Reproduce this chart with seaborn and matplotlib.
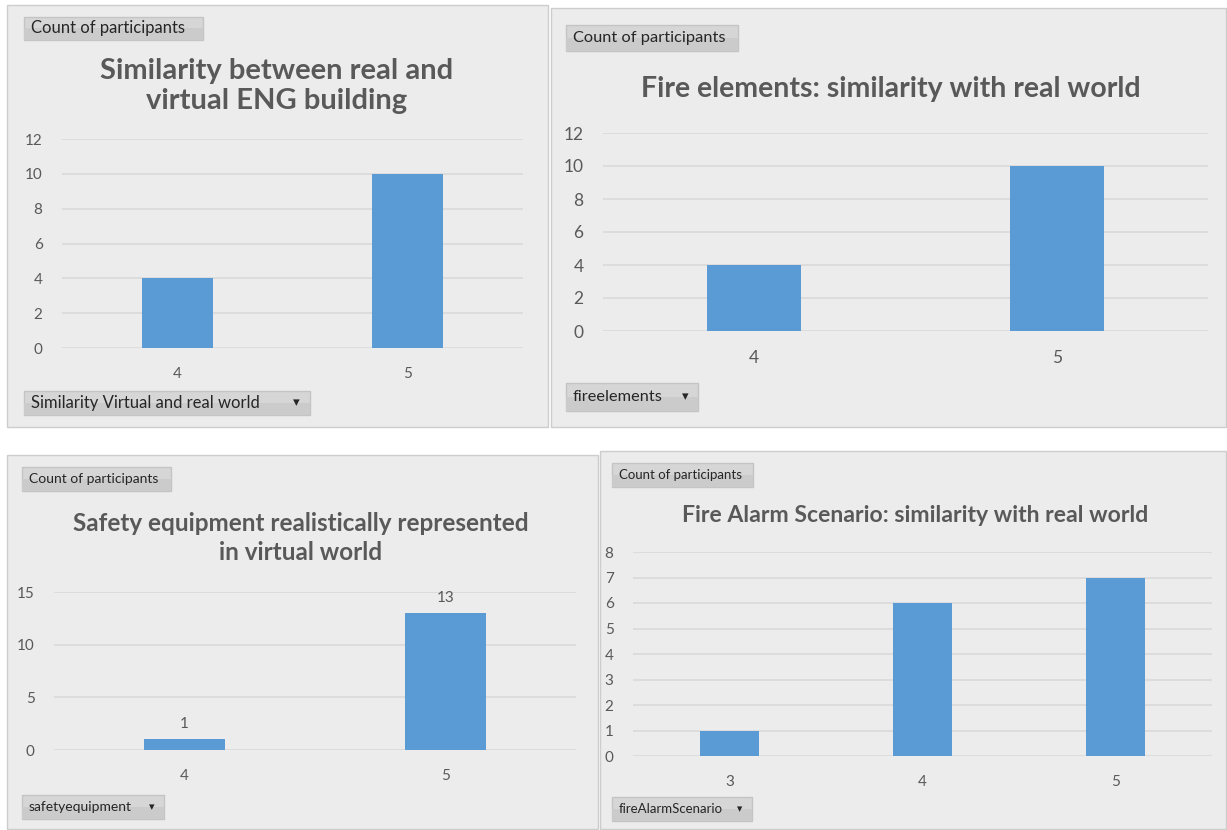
import matplotlib
matplotlib.use('Agg')
import matplotlib.pyplot as plt
from matplotlib.patches import Rectangle
import seaborn as sns

# data
sim_levels = ['4', '5']
sim_counts = [4, 10]

fire_levels = ['4', '5']
fire_counts = [4, 10]

safety_levels = ['4', '5']
safety_counts = [1, 13]

alarm_levels = ['3', '4', '5']
alarm_counts = [1, 6, 7]

titles = ['Similarity between real and\nvirtual ENG building',
          'Fire elements: similarity with real world',
          'Safety equipment realistically represented\nin virtual world',
          'Fire Alarm Scenario: similarity with real world']
field_names = ['Similarity Virtual and real world', 'fireelements',
               'safetyequipment', 'fireAlarmScenario']
value_button = 'Count of participants'

W, H = 1227, 830
BAR = '#5b9bd5'
PANEL = '#ececec'
GRID = '#d9d9d9'
TXT = '#595959'

sns.set_style('white')
plt.rcParams['font.family'] = ['Lato', 'DejaVu Sans']


def rect(x0, y0, x1, y1):
    return [x0 / W, 1 - y1 / H, (x1 - x0) / W, (y1 - y0) / H]


def box(fig, x0, y0, x1, y1, fc, ec, z=-2):
    fig.patches.append(Rectangle((x0 / W, 1 - y1 / H), (x1 - x0) / W, (y1 - y0) / H,
                                 transform=fig.transFigure, facecolor=fc,
                                 edgecolor=ec, lw=1, zorder=z))


def button(fig, x0, y0, x1, y1, label, size, arrow_x=None):
    box(fig, x0, y0, x1, y1, '#d6d6d6', '#c4c4c4', z=-1)
    # slightly darker lower half, like the excel field buttons
    fig.patches.append(Rectangle((x0 / W, 1 - y1 / H), (x1 - x0) / W, (y1 - y0) / (2 * H),
                                 transform=fig.transFigure, facecolor='#cbcbcb',
                                 edgecolor='none', zorder=-1))
    fig.text((x0 + 7) / W, 1 - ((y0 + y1) / 2) / H, label, fontsize=size,
             color='#262626', va='center', ha='left')
    if arrow_x is not None:
        fig.text(arrow_x / W, 1 - ((y0 + y1) / 2) / H, '\u25BE', fontsize=size * 0.8,
                 color='#262626', va='center', ha='center',
                 family=['DejaVu Sans'])


fig = plt.figure(figsize=(W / 100, H / 100), dpi=100)
fig.patch.set_facecolor('white')

panels = [
    dict(panel=(7, 5, 548, 427), axes=(62, 139, 523, 348), x=sim_levels, y=sim_counts,
         yt=range(0, 13, 2), ts=11, tpos=(277, 86), tsize=21, ls=1.15,
         cb=(24, 17, 203, 40), fb=(24, 391, 310, 415), ax_=296, bs=12, lab=False),
    dict(panel=(551, 8, 1226, 427), axes=(603, 133, 1208, 331), x=fire_levels, y=fire_counts,
         yt=range(0, 13, 2), ts=12.5, tpos=(891, 89), tsize=20.5, ls=1.2,
         cb=(566, 25, 738, 51), fb=(566, 383, 698, 411), ax_=685, bs=11.8, lab=False),
    dict(panel=(7, 455, 598, 829), axes=(54, 592, 576, 750), x=safety_levels, y=safety_counts,
         yt=range(0, 16, 5), ts=11, tpos=(301, 538), tsize=17.5, ls=1.32,
         cb=(22, 467, 171, 491), fb=(22, 795, 164, 819), ax_=152, bs=10, lab=True),
    dict(panel=(600, 451, 1226, 829), axes=(633, 552, 1212, 756), x=alarm_levels, y=alarm_counts,
         yt=range(0, 9), ts=11, tpos=(915, 516), tsize=16.6, ls=1.2,
         cb=(612, 463, 753, 487), fb=(612, 797, 752, 821), ax_=740, bs=9.5, lab=False),
]

for i, p in enumerate(panels):
    box(fig, *p['panel'], PANEL, '#cdcdcd')
    ax = fig.add_axes(rect(*p['axes']))
    ax.set_facecolor('none')
    sns.barplot(x=p['x'], y=p['y'], color=BAR, saturation=1, width=0.31,
                linewidth=0, ax=ax)
    ax.set_ylim(0, max(p['yt']))
    ax.set_yticks(list(p['yt']))
    ax.set_xlim(-0.5, len(p['x']) - 0.5)
    ax.grid(axis='y', color=GRID, lw=1.2)
    ax.set_axisbelow(True)
    for s in ax.spines.values():
        s.set_visible(False)
    ax.tick_params(length=0, labelsize=p['ts'], labelcolor=TXT, pad=14)
    ax.set_xlabel('')
    ax.set_ylabel('')
    if p['lab']:
        ax.bar_label(ax.containers[0], fontsize=p['ts'], color=TXT, padding=6)

    fig.text(p['tpos'][0] / W, 1 - p['tpos'][1] / H, titles[i], fontsize=p['tsize'],
             fontweight='bold', color=TXT, ha='center', va='center', linespacing=p['ls'])
    button(fig, *p['cb'], value_button, p['bs'])
    button(fig, *p['fb'], field_names[i], p['bs'], arrow_x=p['ax_'])

fig.savefig('out.png', dpi=100, facecolor='white')
